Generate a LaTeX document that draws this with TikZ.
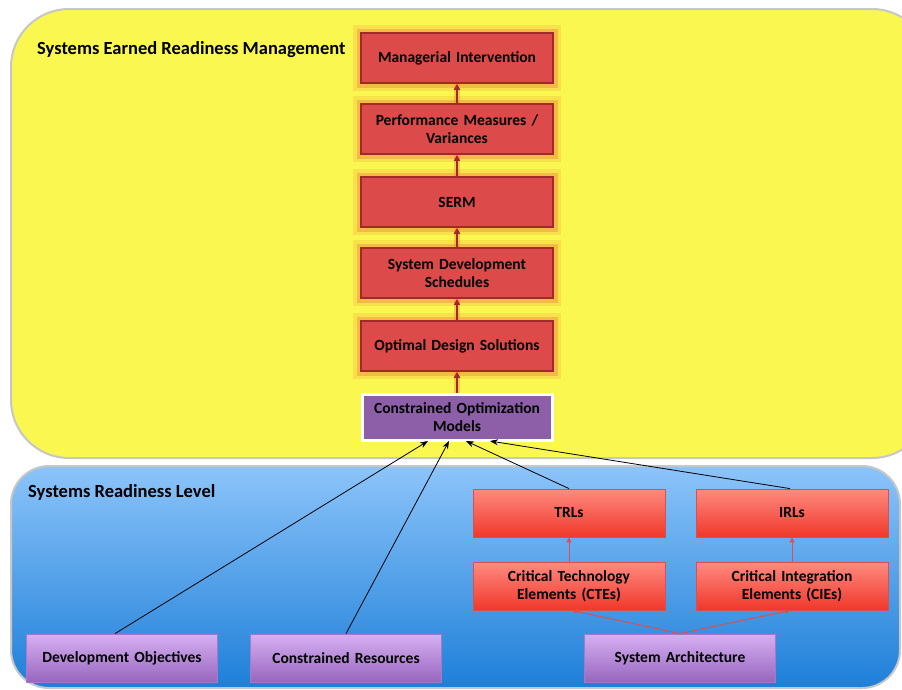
\documentclass[tikz,border=0pt]{standalone}
\usepackage{fontspec}
\setmainfont{Carlito}
\usetikzlibrary{arrows.meta}
\definecolor{ybg}{HTML}{FAF850}
\definecolor{btop}{HTML}{8CC4FA}
\definecolor{bbot}{HTML}{1E7FD8}
\definecolor{sfill}{HTML}{DC4A4A}
\definecolor{sdraw}{HTML}{A02A2A}
\definecolor{glowc}{HTML}{F08A3A}
\definecolor{rtop}{HTML}{FF8A80}
\definecolor{rbot}{HTML}{F0382A}
\definecolor{rdraw}{HTML}{D85050}
\definecolor{ptop}{HTML}{D6B0F2}
\definecolor{pbot}{HTML}{9866C0}
\definecolor{pdraw}{HTML}{A878C8}
\definecolor{comfill}{HTML}{8C5FA8}
\tikzset{
  labelfont/.style={font=\bfseries\fontsize{15.5}{18.5}\selectfont},
  sermbox/.style={rectangle, labelfont, align=center, text width=186pt,
    minimum width=192pt, minimum height=50pt, inner sep=0pt,
    fill=sfill, draw=sdraw, line width=1.6pt,
    preaction={draw=glowc, line width=16pt, opacity=0.2},
    preaction={draw=glowc, line width=9pt, opacity=0.45}},
  redbox/.style={rectangle, labelfont, align=center, text width=186pt,
    minimum width=192pt, minimum height=48pt, inner sep=0pt,
    top color=rtop, bottom color=rbot, draw=rdraw, line width=0.8pt},
  purplebox/.style={rectangle, labelfont, align=center, text width=186pt,
    minimum width=191pt, minimum height=48pt, inner sep=0pt,
    top color=ptop, bottom color=pbot, draw=pdraw, line width=0.8pt},
  sermarrow/.style={draw=sdraw, line width=2pt, -{Triangle[length=6pt,width=6pt]},
    preaction={draw=glowc, line width=6pt, opacity=0.4, -}},
  redarrow/.style={draw=rdraw, line width=1pt, -{Triangle[length=5pt,width=5pt]}},
  blackarrow/.style={draw=black, line width=0.8pt, -{Stealth[length=8pt,width=6pt]}},
  title/.style={font=\bfseries\fontsize{18.5}{21}\selectfont, anchor=west, inner sep=0pt}
}
\begin{document}
\begin{tikzpicture}[x=1pt,y=-1pt]
\useasboundingbox (0,0) rectangle (902,689);
\fill[white] (0,0) rectangle (902,689);
% yellow region
\draw[draw=black!22, line width=2pt, fill=ybg, rounded corners=58pt] (11,9) rectangle (930,458);
% blue region
\draw[draw=black!22, line width=2pt, top color=btop, bottom color=bbot, rounded corners=38pt] (11,466) rectangle (900,688);

\node[title] (t1) at (37,50) {Systems Earned Readiness Management};
\node[title] (t2) at (28,492) {Systems Readiness Level};

% SERM stack
\node[sermbox] (mi) at (457,58) {Managerial Intervention};
\node[sermbox] (pm) at (457,129) {Performance Measures /\\Variances};
\node[sermbox] (se) at (457,202) {SERM};
\node[sermbox] (sd) at (457,273) {System Development\\Schedules};
\node[sermbox] (od) at (457,346) {Optimal Design Solutions};
\node[rectangle, labelfont, align=center, text width=186pt, minimum width=190pt, minimum height=46pt, inner sep=0pt,
  fill=comfill, draw=white, line width=3pt] (com) at (457,417) {Constrained Optimization\\Models};

\draw[sermarrow] (pm.north) -- (mi.south);
\draw[sermarrow] (se.north) -- (pm.south);
\draw[sermarrow] (sd.north) -- (se.south);
\draw[sermarrow] (od.north) -- (sd.south);
\draw[sermarrow] (com.north) -- (od.south);

% lower region
\node[redbox] (trl) at (569,513) {TRLs};
\node[redbox] (irl) at (792,513) {IRLs};
\node[redbox] (cte) at (569,586) {Critical Technology\\Elements (CTEs)};
\node[redbox] (cie) at (792,586) {Critical Integration\\Elements (CIEs)};
\node[purplebox] (dev) at (122,658) {Development Objectives};
\node[purplebox] (cr) at (346,658) {Constrained Resources};
\node[purplebox] (sa) at (680,658) {System Architecture};

\draw[redarrow] (cte.north) -- (trl.south);
\draw[redarrow] (cie.north) -- (irl.south);
\draw[redarrow] (sa.north) -- ([xshift=3pt]cte.south);
\draw[redarrow] (sa.north) -- ([xshift=-2pt]cie.south);

\coordinate (c1) at (428,441);
\coordinate (c2) at (449,441);
\coordinate (c3) at (466,441);
\coordinate (c4) at (490,441);
\draw[blackarrow] ([xshift=-7pt]dev.north) -- (c1);
\draw[blackarrow] (cr.north) -- (c2);
\draw[blackarrow] (trl.north) -- (c3);
\draw[blackarrow] ([xshift=-2pt]irl.north) -- (c4);
\end{tikzpicture}
\end{document}
